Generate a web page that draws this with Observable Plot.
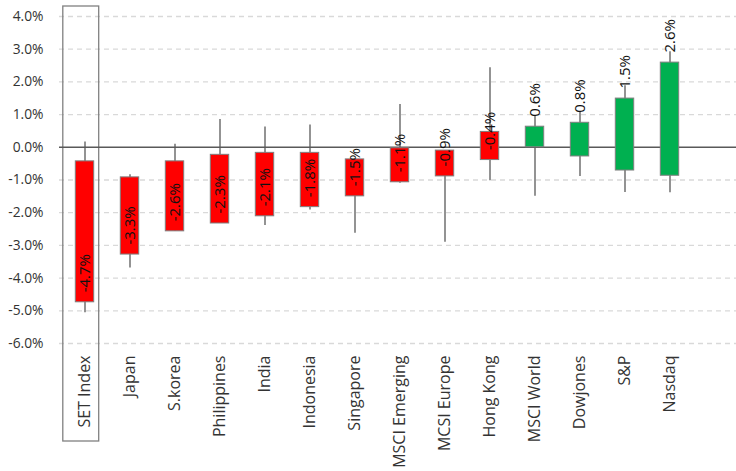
<!DOCTYPE html>
<html>
<head>
<meta charset="utf-8">
<script src="https://cdn.jsdelivr.net/npm/d3@7"></script>
<script src="https://cdn.jsdelivr.net/npm/@observablehq/plot@0.6"></script>
<style>
  html, body { margin: 0; padding: 0; background: #ffffff; }
  #chart svg { display: block; }
</style>
</head>
<body>
<div id="chart"></div>
<script>
const categories = ["SET Index","Japan","S.korea","Philippines","India","Indonesia","Singapore","MSCI Emerging","MCSI Europe","Hong Kong","MSCI World","Dowjones","S&P","Nasdaq"];
const openValues  = [-0.43,-0.92,-0.43,-0.23,-0.17,-0.17,-0.37,-0.03,-0.10, 0.47, 0.00,-0.28,-0.71,-0.87];
const closeValues = [-4.74,-3.28,-2.57,-2.33,-2.11,-1.83,-1.50,-1.07,-0.89,-0.39, 0.63, 0.75, 1.49, 2.59];
const highValues  = [ 0.16,-0.84, 0.09, 0.85, 0.62, 0.68,-0.37, 1.31,-0.10, 2.43, 0.97, 1.09, 1.88, 2.92];
const lowValues   = [-5.06,-3.69,-2.57,-2.33,-2.39,-1.92,-2.63,-1.10,-2.90,-1.02,-1.50,-0.89,-1.38,-1.39];
const valueLabels = ["-4.7%","-3.3%","-2.6%","-2.3%","-2.1%","-1.8%","-1.5%","-1.1%","-0.9%","-0.4%","0.6%","0.8%","1.5%","2.6%"];
const yTicks = [-6,-5,-4,-3,-2,-1,0,1,2,3,4];
const highlighted = ["SET Index"];

const data = categories.map((c, i) => ({
  cat: c, open: openValues[i], close: closeValues[i],
  high: highValues[i], low: lowValues[i], label: valueLabels[i]
}));
const yMin = yTicks[0], yMax = yTicks[yTicks.length - 1];
const fmt = d => d.toFixed(1) + "%";

const chart = Plot.plot({
  width: 736,
  height: 471,
  marginLeft: 59,
  marginRight: 0,
  marginTop: 16,
  marginBottom: 128,
  style: { fontFamily: "'Open Sans', sans-serif", background: "#ffffff" },
  x: { domain: categories, range: [58.2, 696.5], padding: 0, label: null },
  y: { domain: [yMin, yMax], label: null },
  marks: [
    Plot.ruleY(yTicks.filter(t => t !== 0), { stroke: "#d9d9d9", strokeWidth: 1.3, strokeDasharray: "5,4" }),
    Plot.barY(highlighted, {
      x: d => d, y1: () => yMax, y2: () => yMin,
      fill: "none", stroke: "#808080", strokeWidth: 1.3,
      insetLeft: 0.8, insetRight: 8.3, insetTop: -10, insetBottom: -98
    }),
    Plot.ruleX(data, { x: "cat", y1: "low", y2: "high", stroke: "#595959", strokeWidth: 1.3 }),
    Plot.ruleY([0], { stroke: "#595959", strokeWidth: 1.5 }),
    Plot.barY(data, {
      x: "cat", y1: "open", y2: "close",
      fill: d => d.close < d.open ? "#ff0000" : "#00b050",
      stroke: "#7f7f7f", strokeWidth: 1,
      insetLeft: 13.3, insetRight: 13.3
    }),
    Plot.text(data, {
      x: "cat", y: "close", text: "label", rotate: -90, textAnchor: "start",
      dy: -10, fontSize: 15, fill: "#111111"
    }),
    Plot.axisY({ ticks: yTicks, tickFormat: fmt, tickSize: 0, tickPadding: 16, fontSize: 13.8, fill: "#333333" }),
    Plot.axisX({ tickRotate: -90, tickSize: 0, tickPadding: 12, fontSize: 16, fill: "#333333" })
  ]
});
document.getElementById("chart").appendChild(chart);
</script>
</body>
</html>
